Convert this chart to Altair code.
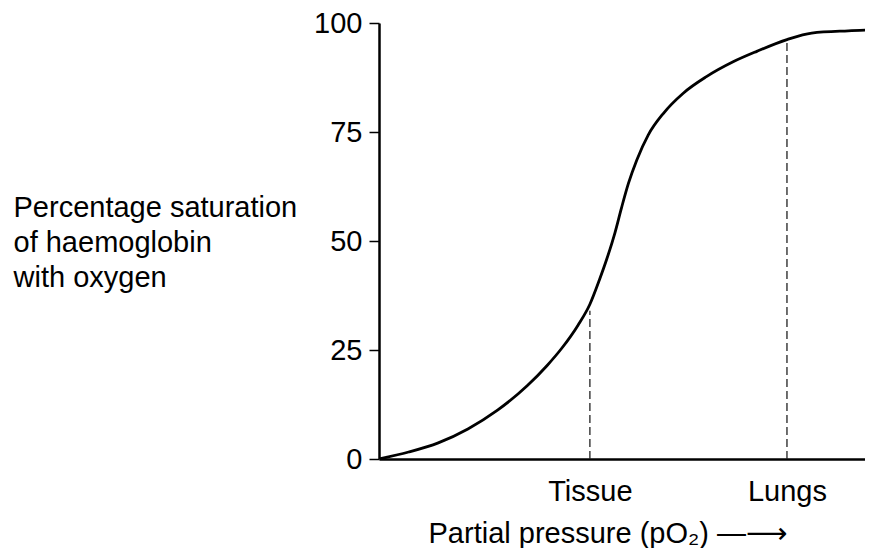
import altair as alt
import pandas as pd

# Oxygen dissociation curve
po2 = [0, 6.0, 12.0, 18.0, 24.0, 30.0, 34.0, 37.0, 40.3, 42.7, 44.6, 46.1, 47.8, 49.1,
       50.5, 52.2, 54.5, 57.6, 61.6, 66.3, 71.7, 76.5, 82.6, 87.6, 95.0, 100.0]
saturation = [0, 1.6, 3.7, 6.9, 11.2, 16.8, 21.4, 25.4, 30.7, 35.5, 41.0, 45.8, 52.0, 57.6,
              63.2, 68.6, 74.3, 79.3, 83.9, 87.7, 91.1, 93.5, 96.2, 97.7, 98.2, 98.4]

# Reference positions (dashed lines)
ref_names = ["Tissue", "Lungs"]
ref_x = [42.7, 82.6]
ref_top = [34.0, 96.0]
ref_zero = [0, 0]

y_ticks = [0, 25, 50, 75, 100]

curve = pd.DataFrame({"x": po2, "y": saturation})
refs = pd.DataFrame({"name": ref_names, "x": ref_x, "y": ref_zero, "y2": ref_top})

FONT = "Liberation Sans, Arial, DejaVu Sans"
FS = 29
label_expr = " : ".join(
    [f"datum.value == {v} ? '{n}'" for v, n in zip(ref_x, ref_names)] + ["''"]
)

x_scale = alt.Scale(domain=[0, 98.4], nice=False, zero=False)
y_scale = alt.Scale(domain=[0, 100], nice=False)

x_axis = alt.Axis(
    values=ref_x,
    labelExpr=label_expr,
    ticks=False,
    tickSize=0,
    grid=False,
    domainColor="black",
    domainWidth=2.5,
    labelFont=FONT,
    labelFontSize=FS,
    labelColor="black",
    labelBaseline="alphabetic",
    labelPadding=41,
    labelAngle=0,
    title="Partial pressure (pO₂) —⟶",
    titleFont=FONT,
    titleFontSize=FS,
    titleFontWeight="normal",
    titleColor="black",
    titleAlign="left",
    titleBaseline="alphabetic",
    titleX=49,
    titleY=83,
)

y_axis = alt.Axis(
    values=y_ticks,
    grid=False,
    domainColor="black",
    domainWidth=2.5,
    tickColor="black",
    tickSize=10,
    tickWidth=1.5,
    labelFont=FONT,
    labelFontSize=FS,
    labelColor="black",
    labelPadding=7,
    title=["Percentage saturation", "of haemoglobin", "with oxygen"],
    titleFont=FONT,
    titleFontSize=FS,
    titleFontWeight="normal",
    titleColor="black",
    titleAngle=0,
    titleAlign="left",
    titleBaseline="alphabetic",
    titleX=-366,
    titleY=193,
    titleLineHeight=35,
)

line = alt.Chart(curve).mark_line(
    color="black", strokeWidth=2.8, interpolate="monotone", clip=True
).encode(
    x=alt.X("x:Q", scale=x_scale, axis=x_axis),
    y=alt.Y("y:Q", scale=y_scale, axis=y_axis),
)

dashes = alt.Chart(refs).mark_rule(
    color="#222222", strokeWidth=1.3, strokeDash=[8, 4]
).encode(
    x=alt.X("x:Q", scale=x_scale, axis=x_axis),
    y=alt.Y("y:Q", scale=y_scale, axis=y_axis),
    y2="y2:Q",
)

chart = alt.layer(dashes, line).properties(
    width=486,
    height=436,
    background="white",
    autosize=alt.AutoSizeParams(type="none"),
    padding={"left": 371, "top": 15, "right": 0, "bottom": 89},
).configure_axis(grid=False).configure_view(stroke=None, strokeWidth=0)

chart.save("out.html", embed_options={"renderer": "svg", "actions": False})
